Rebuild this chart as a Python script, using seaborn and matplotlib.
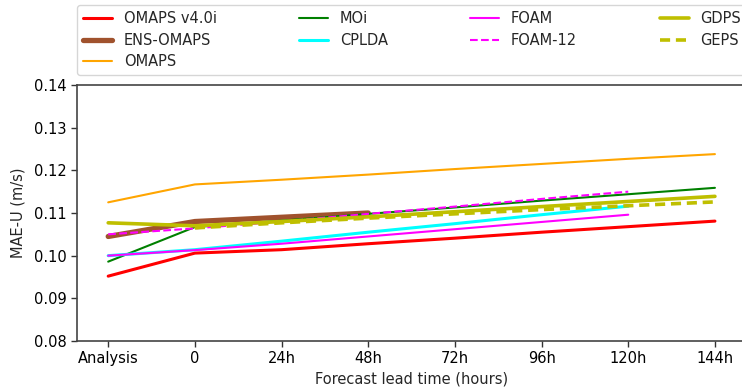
import matplotlib
matplotlib.use("Agg")
import matplotlib.pyplot as plt
import seaborn as sns
import pandas as pd
import numpy as np

sns.set_theme(style="white")
plt.rcParams['font.family'] = ['DejaVu Sans']

tick_labels = ["Analysis", "0", "24h", "48h", "72h", "96h", "120h", "144h"]

omaps_v40i = [0.0952, 0.1006, 0.1014, 0.1028, 0.1041, 0.1055, 0.1068, 0.1081]
ens_omaps = [0.1045, 0.1080, 0.1090, 0.1100]
omaps = [0.1125, 0.1167, 0.1178, 0.1190, 0.1203, 0.1215, 0.1227, 0.1238]
moi = [0.0986, 0.1067, 0.1082, 0.1098, 0.1113, 0.1129, 0.1144, 0.1159]
cplda = [0.1000, 0.1014, 0.1034, 0.1055, 0.1075, 0.1096, 0.1116]
foam = [0.1000, 0.1013, 0.1028, 0.1045, 0.1062, 0.1079, 0.1096]
foam12 = [0.1050, 0.1064, 0.1080, 0.1098, 0.1115, 0.1133, 0.1150]
gdps = [0.1077, 0.1070, 0.1080, 0.1091, 0.1103, 0.1115, 0.1127, 0.1139]
geps_steps = tick_labels[1:]
geps = [0.1065, 0.1077, 0.1088, 0.1098, 0.1108, 0.1117, 0.1126]

series = [
    ("OMAPS v4.0i", tick_labels, omaps_v40i, "red", 2.2, "-"),
    ("ENS-OMAPS", tick_labels, ens_omaps, "sienna", 3.8, "-"),
    ("OMAPS", tick_labels, omaps, "orange", 1.5, "-"),
    ("MOi", tick_labels, moi, "green", 1.5, "-"),
    ("CPLDA", tick_labels, cplda, "cyan", 2.2, "-"),
    ("FOAM", tick_labels, foam, "magenta", 1.5, "-"),
    ("FOAM-12", tick_labels, foam12, "magenta", 1.5, "--"),
    ("GDPS", tick_labels, gdps, "#bfbf00", 2.6, "-"),
    ("GEPS", geps_steps, geps, "#bfbf00", 2.6, (0, (2.8, 1.6))),
]

W, H = 742, 389
fig = plt.figure(figsize=(W/100, H/100), dpi=100)
ax = fig.add_axes([77/W, 1-341/H, (747-77)/W, (341-85)/H])

pos = {lab: i for i, lab in enumerate(tick_labels)}
for name, steps, vals, color, lw, ls in series:
    df = pd.DataFrame({"x": [pos[s] for s in steps[:len(vals)]], "y": vals})
    sns.lineplot(data=df, x="x", y="y", ax=ax, color=color, linewidth=lw,
                 linestyle=ls, label=name, legend=False)

fs = 10.5
ax.set_xticks(range(len(tick_labels)))
ax.set_xticklabels(tick_labels)
ax.set_xlim(-0.36, 7.37)
ax.set_ylim(0.08, 0.14)
ax.set_yticks([0.08, 0.09, 0.10, 0.11, 0.12, 0.13, 0.14])
ax.set_yticklabels(["0.08", "0.09", "0.10", "0.11", "0.12", "0.13", "0.14"])
ax.tick_params(axis="both", which="major", length=4, width=1, labelsize=fs,
               bottom=True, left=True, colors="#333333", labelcolor="black")
for s in ax.spines.values():
    s.set_color("#444444")
    s.set_linewidth(1.2)
ax.spines["right"].set_visible(False)
ax.set_xlabel("Forecast lead time (hours)", fontsize=fs, labelpad=4)
ax.set_ylabel("MAE-U (m/s)", fontsize=fs, labelpad=6)

handles, labels = ax.get_legend_handles_labels()
ax.legend(handles, labels, ncol=4, loc="lower left", mode="expand",
          bbox_to_anchor=(0, 1 + 10/256, 1, 0.2), fontsize=fs, frameon=True,
          handlelength=2.0, handletextpad=0.8, labelspacing=0.45,
          borderpad=0.4, borderaxespad=0)

fig.savefig("out.png", dpi=100)
